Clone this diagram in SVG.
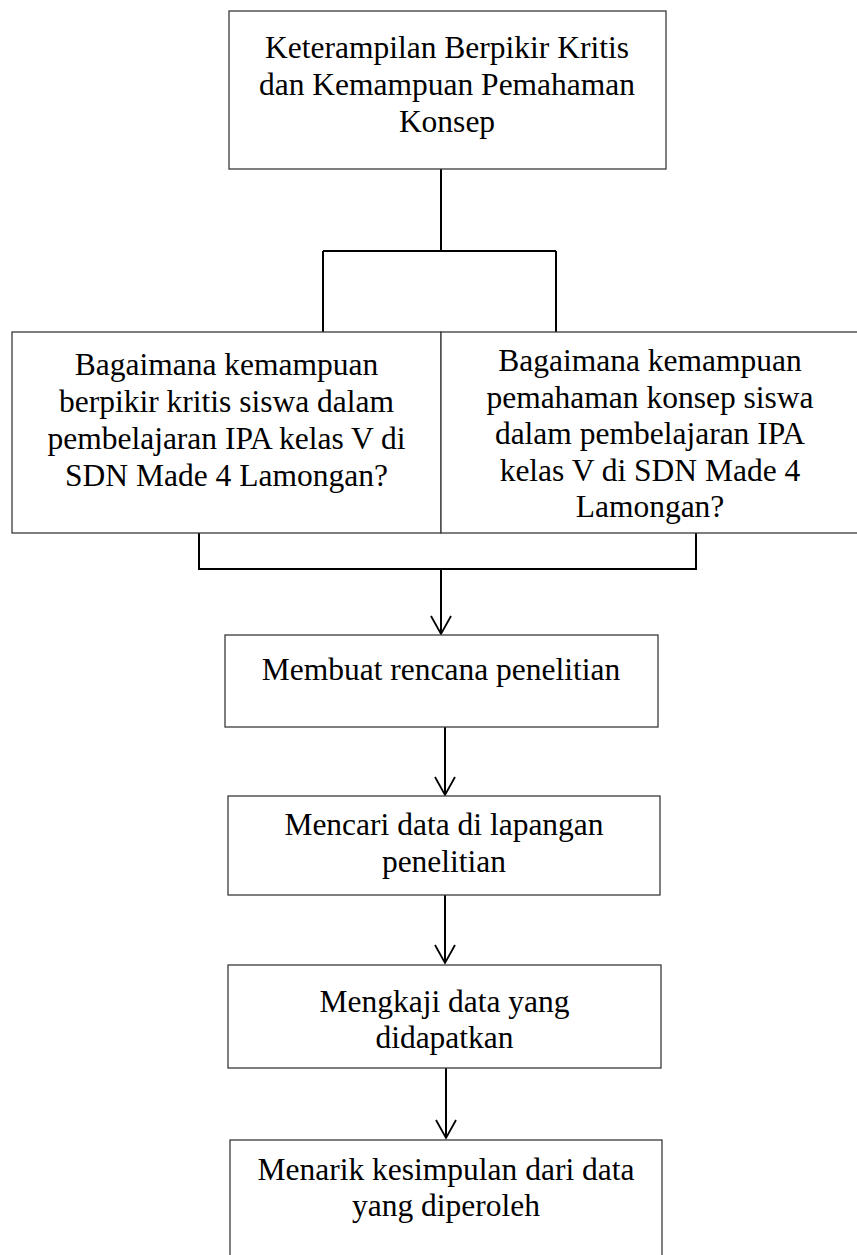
<svg xmlns="http://www.w3.org/2000/svg" width="857" height="1255" viewBox="0 0 857 1255">
<style>
.box{fill:#fff;stroke:#3a3a3a;stroke-width:1.3}
.lbl{font-family:"Liberation Serif","Times New Roman",serif;font-size:31.5px;fill:#000;text-anchor:middle}
.con{fill:none;stroke:#000;stroke-width:2}
</style>
<defs>
<marker id="arr" markerUnits="userSpaceOnUse" markerWidth="24" markerHeight="24" viewBox="-20 -12 22 24" refX="0" refY="0" orient="auto">
<path d="M-18,-10 L0,0 L-18,10" fill="none" stroke="#000" stroke-width="1.8"/>
</marker>
</defs>
<g id="connectors">
<path class="con" d="M441,169 V251 M323,251 H556 M323,251 V332 M556,251 V332"/>
<path class="con" d="M199,533 V569 H696 V533"/>
<path class="con" d="M441,569 V634" marker-end="url(#arr)"/>
<path class="con" d="M445,727 V795" marker-end="url(#arr)"/>
<path class="con" d="M445,895 V963" marker-end="url(#arr)"/>
<path class="con" d="M446,1068 V1138" marker-end="url(#arr)"/>
</g>
<g id="n-top">
<rect class="box" x="229" y="11" width="437" height="158"/>
<text class="lbl"><tspan x="447" y="58">Keterampilan Berpikir Kritis</tspan><tspan x="447" y="95">dan Kemampuan Pemahaman</tspan><tspan x="447" y="132">Konsep</tspan></text>
</g>
<g id="n-left">
<rect class="box" x="12" y="332" width="429" height="201"/>
<text class="lbl"><tspan x="226.5" y="375">Bagaimana kemampuan</tspan><tspan x="226.5" y="412">berpikir kritis siswa dalam</tspan><tspan x="226.5" y="449">pembelajaran IPA kelas V di</tspan><tspan x="226.5" y="486">SDN Made 4 Lamongan?</tspan></text>
</g>
<g id="n-right">
<rect class="box" x="441" y="332" width="420" height="201"/>
<text class="lbl"><tspan x="650" y="371">Bagaimana kemampuan</tspan><tspan x="650" y="407.5">pemahaman konsep siswa</tspan><tspan x="650" y="444">dalam pembelajaran IPA</tspan><tspan x="650" y="480.5">kelas V di SDN Made 4</tspan><tspan x="650" y="517">Lamongan?</tspan></text>
</g>
<g id="n-plan">
<rect class="box" x="225" y="635" width="433" height="92"/>
<text class="lbl" x="441" y="680">Membuat rencana penelitian</text>
</g>
<g id="n-field">
<rect class="box" x="228" y="796" width="432" height="99"/>
<text class="lbl"><tspan x="444" y="835">Mencari data di lapangan</tspan><tspan x="444" y="872">penelitian</tspan></text>
</g>
<g id="n-analyze">
<rect class="box" x="228" y="965" width="433" height="103"/>
<text class="lbl"><tspan x="444.5" y="1012">Mengkaji data yang</tspan><tspan x="444.5" y="1048">didapatkan</tspan></text>
</g>
<g id="n-conclude">
<rect class="box" x="230" y="1140" width="432" height="130"/>
<text class="lbl"><tspan x="446" y="1180">Menarik kesimpulan dari data</tspan><tspan x="446" y="1216">yang diperoleh</tspan></text>
</g>
</svg>
